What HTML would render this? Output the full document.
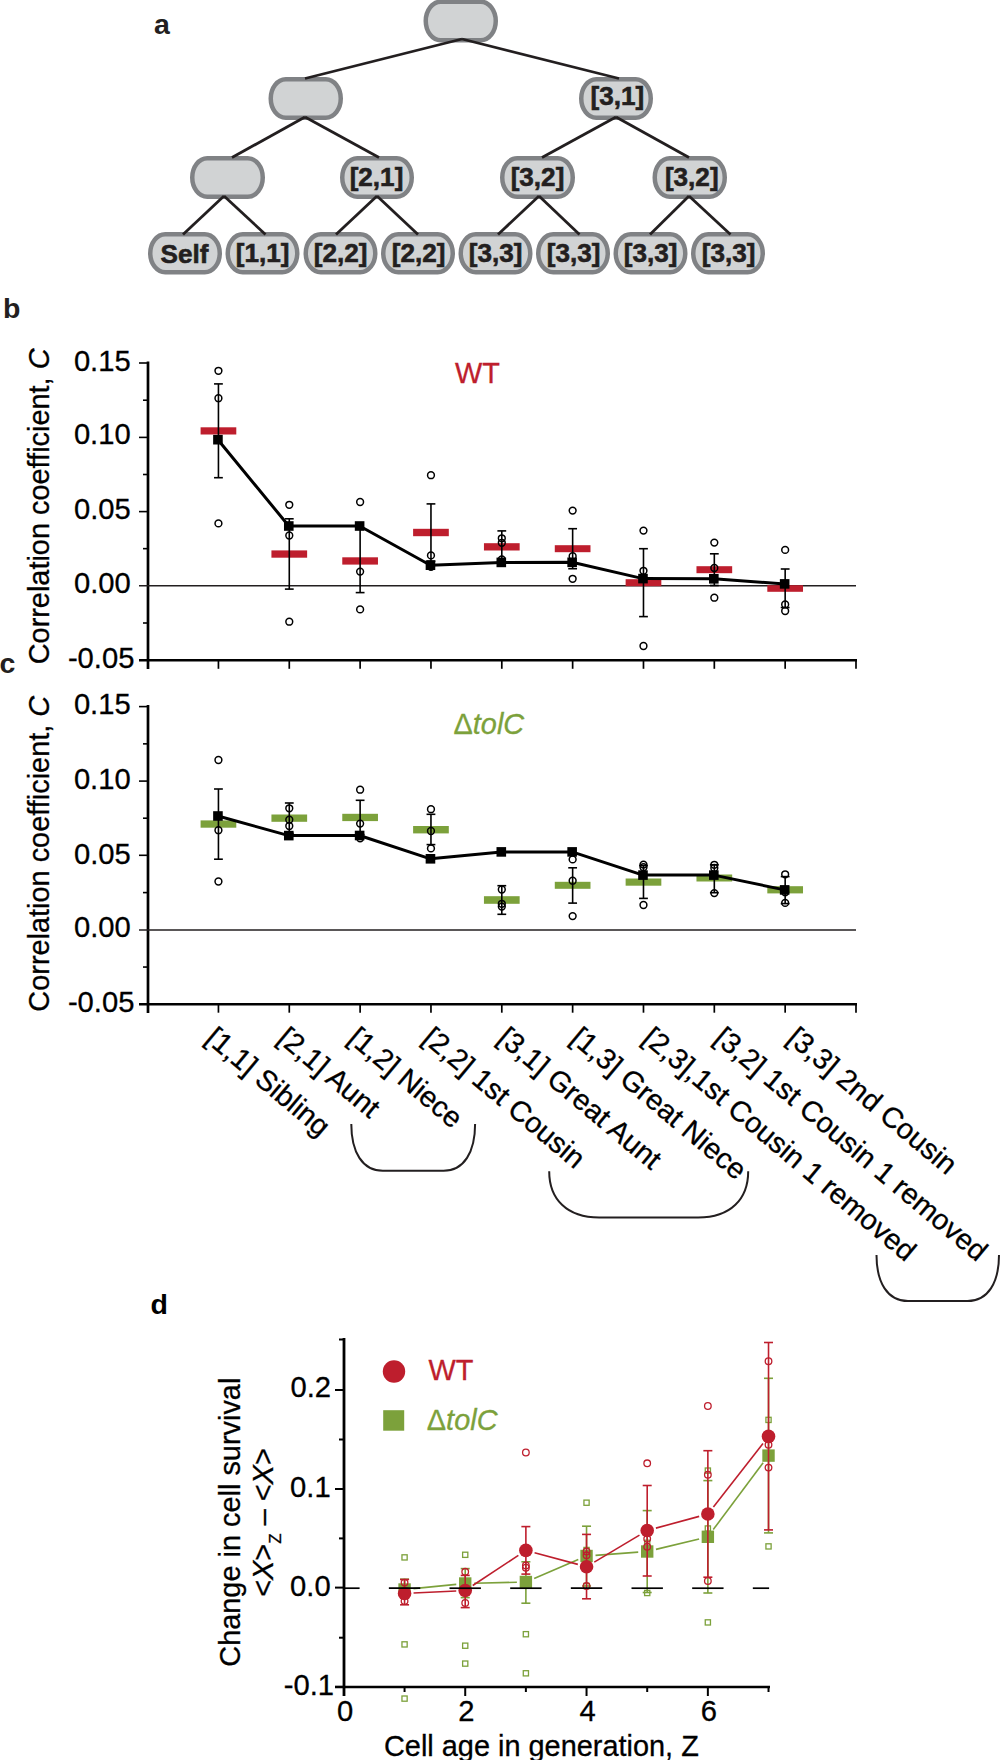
<!DOCTYPE html>
<html><head><meta charset="utf-8"><title>Figure</title>
<style>
html,body{margin:0;padding:0;background:#fff;width:1001px;height:1760px;overflow:hidden;}
svg{display:block;}
text{font-family:"Liberation Sans", sans-serif;}
</style></head><body>
<svg width="1001" height="1760" viewBox="0 0 1001 1760">
<rect width="1001" height="1760" fill="#fff"/>
<text x="154" y="33.5" font-size="28.5" fill="#231f20" font-weight="bold">a</text>
<rect x="425.75" y="1.75" width="70" height="38.5" rx="15" ry="19.25" fill="#d1d3d4" stroke="#808285" stroke-width="4.5"/>
<rect x="270.75" y="79.25" width="70" height="38.5" rx="15" ry="19.25" fill="#d1d3d4" stroke="#808285" stroke-width="4.5"/>
<rect x="581.25" y="79.25" width="69.5" height="38.5" rx="15" ry="19.25" fill="#d1d3d4" stroke="#808285" stroke-width="4.5"/>
<g transform="translate(1.4 -1.8)"><text x="616" y="106.5" font-size="26.1" fill="#231f20" text-anchor="middle" font-weight="bold" stroke="#231f20" stroke-width="0.6">[3,1]</text></g>
<rect x="192.25" y="158.25" width="70.5" height="38.5" rx="15" ry="19.25" fill="#d1d3d4" stroke="#808285" stroke-width="4.5"/>
<rect x="342.25" y="158.25" width="69.5" height="38.5" rx="15" ry="19.25" fill="#d1d3d4" stroke="#808285" stroke-width="4.5"/>
<g transform="translate(-0.5 0)"><text x="377" y="185.5" font-size="26.1" fill="#231f20" text-anchor="middle" font-weight="bold" stroke="#231f20" stroke-width="0.6">[2,1]</text></g>
<rect x="502.25" y="158.25" width="70.5" height="38.5" rx="15" ry="19.25" fill="#d1d3d4" stroke="#808285" stroke-width="4.5"/>
<text x="537.5" y="185.5" font-size="26.1" fill="#231f20" text-anchor="middle" font-weight="bold" stroke="#231f20" stroke-width="0.6">[3,2]</text>
<rect x="654.75" y="158.25" width="70" height="38.5" rx="15" ry="19.25" fill="#d1d3d4" stroke="#808285" stroke-width="4.5"/>
<g transform="translate(2 0)"><text x="689.75" y="185.5" font-size="26.1" fill="#231f20" text-anchor="middle" font-weight="bold" stroke="#231f20" stroke-width="0.6">[3,2]</text></g>
<rect x="150.25" y="234.25" width="69.5" height="38" rx="15" ry="19.25" fill="#d1d3d4" stroke="#808285" stroke-width="4.5"/>
<g transform="translate(-0.5 2)"><text x="185" y="261.25" font-size="26.1" fill="#231f20" text-anchor="middle" font-weight="bold" stroke="#231f20" stroke-width="0.6">Self</text></g>
<rect x="227.75" y="234.25" width="69.5" height="38" rx="15" ry="19.25" fill="#d1d3d4" stroke="#808285" stroke-width="4.5"/>
<g transform="translate(0.2 1.2)"><text x="262.5" y="261.25" font-size="26.1" fill="#231f20" text-anchor="middle" font-weight="bold" stroke="#231f20" stroke-width="0.6">[1,1]</text></g>
<rect x="305.75" y="234.25" width="69.5" height="38" rx="15" ry="19.25" fill="#d1d3d4" stroke="#808285" stroke-width="4.5"/>
<g transform="translate(0.2 1.2)"><text x="340.5" y="261.25" font-size="26.1" fill="#231f20" text-anchor="middle" font-weight="bold" stroke="#231f20" stroke-width="0.6">[2,2]</text></g>
<rect x="383.25" y="234.25" width="69.5" height="38" rx="15" ry="19.25" fill="#d1d3d4" stroke="#808285" stroke-width="4.5"/>
<g transform="translate(0.7 1.2)"><text x="418" y="261.25" font-size="26.1" fill="#231f20" text-anchor="middle" font-weight="bold" stroke="#231f20" stroke-width="0.6">[2,2]</text></g>
<rect x="460.75" y="234.25" width="69.5" height="38" rx="15" ry="19.25" fill="#d1d3d4" stroke="#808285" stroke-width="4.5"/>
<g transform="translate(0.2 1.2)"><text x="495.5" y="261.25" font-size="26.1" fill="#231f20" text-anchor="middle" font-weight="bold" stroke="#231f20" stroke-width="0.6">[3,3]</text></g>
<rect x="538.25" y="234.25" width="69.5" height="38" rx="15" ry="19.25" fill="#d1d3d4" stroke="#808285" stroke-width="4.5"/>
<g transform="translate(0.7 1.2)"><text x="573" y="261.25" font-size="26.1" fill="#231f20" text-anchor="middle" font-weight="bold" stroke="#231f20" stroke-width="0.6">[3,3]</text></g>
<rect x="615.75" y="234.25" width="69.5" height="38" rx="15" ry="19.25" fill="#d1d3d4" stroke="#808285" stroke-width="4.5"/>
<g transform="translate(0.2 1.2)"><text x="650.5" y="261.25" font-size="26.1" fill="#231f20" text-anchor="middle" font-weight="bold" stroke="#231f20" stroke-width="0.6">[3,3]</text></g>
<rect x="693.25" y="234.25" width="69.5" height="38" rx="15" ry="19.25" fill="#d1d3d4" stroke="#808285" stroke-width="4.5"/>
<g transform="translate(0.7 1.2)"><text x="728" y="261.25" font-size="26.1" fill="#231f20" text-anchor="middle" font-weight="bold" stroke="#231f20" stroke-width="0.6">[3,3]</text></g>
<line x1="462" y1="39" x2="305" y2="78.5" stroke="#231f20" stroke-width="2.8"/>
<line x1="462" y1="39" x2="619" y2="78.5" stroke="#231f20" stroke-width="2.8"/>
<line x1="305" y1="117" x2="232" y2="157.5" stroke="#231f20" stroke-width="2.8"/>
<line x1="305" y1="117" x2="379" y2="157.5" stroke="#231f20" stroke-width="2.8"/>
<line x1="616" y1="117" x2="542" y2="157.5" stroke="#231f20" stroke-width="2.8"/>
<line x1="616" y1="117" x2="689" y2="157.5" stroke="#231f20" stroke-width="2.8"/>
<line x1="224" y1="196" x2="183" y2="234.5" stroke="#231f20" stroke-width="2.8"/>
<line x1="224" y1="196" x2="265.5" y2="234.5" stroke="#231f20" stroke-width="2.8"/>
<line x1="377" y1="196" x2="336" y2="234.5" stroke="#231f20" stroke-width="2.8"/>
<line x1="377" y1="196" x2="418" y2="234.5" stroke="#231f20" stroke-width="2.8"/>
<line x1="539" y1="196" x2="498" y2="234.5" stroke="#231f20" stroke-width="2.8"/>
<line x1="539" y1="196" x2="579.5" y2="234.5" stroke="#231f20" stroke-width="2.8"/>
<line x1="689" y1="196" x2="650" y2="234.5" stroke="#231f20" stroke-width="2.8"/>
<line x1="689" y1="196" x2="730.5" y2="234.5" stroke="#231f20" stroke-width="2.8"/>
<line x1="148" y1="361.5" x2="148" y2="669" stroke="#000" stroke-width="2.7"/>
<line x1="139" y1="660.3" x2="857" y2="660.3" stroke="#000" stroke-width="2.6"/>
<line x1="139" y1="585.7" x2="856" y2="585.7" stroke="#231f20" stroke-width="1.5"/>
<line x1="139" y1="363" x2="148" y2="363" stroke="#000" stroke-width="1.6"/>
<line x1="139" y1="437.4" x2="148" y2="437.4" stroke="#000" stroke-width="1.6"/>
<line x1="139" y1="511.6" x2="148" y2="511.6" stroke="#000" stroke-width="1.6"/>
<line x1="143" y1="400.2" x2="148" y2="400.2" stroke="#000" stroke-width="1.6"/>
<line x1="143" y1="474.5" x2="148" y2="474.5" stroke="#000" stroke-width="1.6"/>
<line x1="143" y1="548.65" x2="148" y2="548.65" stroke="#000" stroke-width="1.6"/>
<line x1="143" y1="623" x2="148" y2="623" stroke="#000" stroke-width="1.6"/>
<line x1="218.44" y1="660.3" x2="218.44" y2="668.8" stroke="#000" stroke-width="1.7"/>
<line x1="289.28" y1="660.3" x2="289.28" y2="668.8" stroke="#000" stroke-width="1.7"/>
<line x1="360.12" y1="660.3" x2="360.12" y2="668.8" stroke="#000" stroke-width="1.7"/>
<line x1="430.96" y1="660.3" x2="430.96" y2="668.8" stroke="#000" stroke-width="1.7"/>
<line x1="501.8" y1="660.3" x2="501.8" y2="668.8" stroke="#000" stroke-width="1.7"/>
<line x1="572.64" y1="660.3" x2="572.64" y2="668.8" stroke="#000" stroke-width="1.7"/>
<line x1="643.48" y1="660.3" x2="643.48" y2="668.8" stroke="#000" stroke-width="1.7"/>
<line x1="714.32" y1="660.3" x2="714.32" y2="668.8" stroke="#000" stroke-width="1.7"/>
<line x1="785.16" y1="660.3" x2="785.16" y2="668.8" stroke="#000" stroke-width="1.7"/>
<line x1="856" y1="660.3" x2="856" y2="668.8" stroke="#000" stroke-width="1.7"/>
<text x="73.9" y="370.6" font-size="29.2" fill="#000" stroke="#000" stroke-width="0.3">0.15</text>
<g transform="translate(0 -1)"><text x="73.9" y="445" font-size="29.2" fill="#000" stroke="#000" stroke-width="0.3">0.10</text></g>
<g transform="translate(0.1 -0.2)"><text x="73.9" y="519.2" font-size="29.2" fill="#000" stroke="#000" stroke-width="0.3">0.05</text></g>
<g transform="translate(0.1 0.2)"><text x="73.9" y="593.3" font-size="29.2" fill="#000" stroke="#000" stroke-width="0.3">0.00</text></g>
<g transform="translate(0.7 0.4)"><text x="67.2" y="667.9" font-size="29.2" fill="#000" stroke="#000" stroke-width="0.3">-0.05</text></g>
<g transform="translate(1 0.22)"><text transform="translate(48 506.18) rotate(-90)" text-anchor="middle" font-size="28.9" fill="#000" stroke="#000" stroke-width="0.3">Correlation coefficient, <tspan font-style="italic">C</tspan></text></g>
<g transform="translate(-2 -1)"><text x="5" y="319" font-size="28.5" fill="#231f20" font-weight="bold">b</text></g>
<rect x="200.59" y="427.3" width="35.7" height="7.2" fill="#be1e2d"/>
<rect x="271.43" y="550.4" width="35.7" height="7.3" fill="#be1e2d"/>
<rect x="342.27" y="557.3" width="35.7" height="7.3" fill="#be1e2d"/>
<rect x="413.11" y="528.8" width="35.7" height="7.4" fill="#be1e2d"/>
<rect x="483.95" y="543.2" width="35.7" height="7.3" fill="#be1e2d"/>
<rect x="554.79" y="545.2" width="35.7" height="7" fill="#be1e2d"/>
<rect x="625.63" y="579.2" width="35.7" height="7" fill="#be1e2d"/>
<rect x="696.47" y="566.2" width="35.7" height="7" fill="#be1e2d"/>
<rect x="767.31" y="585.2" width="35.7" height="6.6" fill="#be1e2d"/>
<line x1="218.44" y1="383.9" x2="218.44" y2="477.7" stroke="#000" stroke-width="1.6"/>
<line x1="214.04" y1="383.9" x2="222.84" y2="383.9" stroke="#000" stroke-width="1.6"/>
<line x1="214.04" y1="477.7" x2="222.84" y2="477.7" stroke="#000" stroke-width="1.6"/>
<line x1="289.28" y1="518.8" x2="289.28" y2="589.1" stroke="#000" stroke-width="1.6"/>
<line x1="284.88" y1="518.8" x2="293.68" y2="518.8" stroke="#000" stroke-width="1.6"/>
<line x1="284.88" y1="589.1" x2="293.68" y2="589.1" stroke="#000" stroke-width="1.6"/>
<line x1="360.12" y1="529.2" x2="360.12" y2="592.6" stroke="#000" stroke-width="1.6"/>
<line x1="355.72" y1="529.2" x2="364.52" y2="529.2" stroke="#000" stroke-width="1.6"/>
<line x1="355.72" y1="592.6" x2="364.52" y2="592.6" stroke="#000" stroke-width="1.6"/>
<line x1="430.96" y1="503.9" x2="430.96" y2="561.1" stroke="#000" stroke-width="1.6"/>
<line x1="426.56" y1="503.9" x2="435.36" y2="503.9" stroke="#000" stroke-width="1.6"/>
<line x1="426.56" y1="561.1" x2="435.36" y2="561.1" stroke="#000" stroke-width="1.6"/>
<line x1="501.8" y1="530.9" x2="501.8" y2="562.8" stroke="#000" stroke-width="1.6"/>
<line x1="497.4" y1="530.9" x2="506.2" y2="530.9" stroke="#000" stroke-width="1.6"/>
<line x1="497.4" y1="562.8" x2="506.2" y2="562.8" stroke="#000" stroke-width="1.6"/>
<line x1="572.64" y1="528.7" x2="572.64" y2="568.7" stroke="#000" stroke-width="1.6"/>
<line x1="568.24" y1="528.7" x2="577.04" y2="528.7" stroke="#000" stroke-width="1.6"/>
<line x1="568.24" y1="568.7" x2="577.04" y2="568.7" stroke="#000" stroke-width="1.6"/>
<line x1="643.48" y1="548.7" x2="643.48" y2="616.6" stroke="#000" stroke-width="1.6"/>
<line x1="639.08" y1="548.7" x2="647.88" y2="548.7" stroke="#000" stroke-width="1.6"/>
<line x1="639.08" y1="616.6" x2="647.88" y2="616.6" stroke="#000" stroke-width="1.6"/>
<line x1="714.32" y1="553.8" x2="714.32" y2="585.5" stroke="#000" stroke-width="1.6"/>
<line x1="709.92" y1="553.8" x2="718.72" y2="553.8" stroke="#000" stroke-width="1.6"/>
<line x1="709.92" y1="585.5" x2="718.72" y2="585.5" stroke="#000" stroke-width="1.6"/>
<line x1="785.16" y1="569" x2="785.16" y2="607.5" stroke="#000" stroke-width="1.6"/>
<line x1="780.76" y1="569" x2="789.56" y2="569" stroke="#000" stroke-width="1.6"/>
<line x1="780.76" y1="607.5" x2="789.56" y2="607.5" stroke="#000" stroke-width="1.6"/>
<circle cx="218.44" cy="370.8" r="3.4" fill="none" stroke="#000" stroke-width="1.5"/>
<circle cx="218.44" cy="398.2" r="3.4" fill="none" stroke="#000" stroke-width="1.5"/>
<circle cx="218.44" cy="523.4" r="3.4" fill="none" stroke="#000" stroke-width="1.5"/>
<circle cx="289.28" cy="504.8" r="3.4" fill="none" stroke="#000" stroke-width="1.5"/>
<circle cx="289.28" cy="535.5" r="3.4" fill="none" stroke="#000" stroke-width="1.5"/>
<circle cx="289.28" cy="621.7" r="3.4" fill="none" stroke="#000" stroke-width="1.5"/>
<circle cx="360.12" cy="502" r="3.4" fill="none" stroke="#000" stroke-width="1.5"/>
<circle cx="360.12" cy="571.6" r="3.4" fill="none" stroke="#000" stroke-width="1.5"/>
<circle cx="360.12" cy="609.4" r="3.4" fill="none" stroke="#000" stroke-width="1.5"/>
<circle cx="430.96" cy="475.2" r="3.4" fill="none" stroke="#000" stroke-width="1.5"/>
<circle cx="430.96" cy="555.4" r="3.4" fill="none" stroke="#000" stroke-width="1.5"/>
<circle cx="430.96" cy="566.9" r="3.4" fill="none" stroke="#000" stroke-width="1.5"/>
<circle cx="501.8" cy="538.3" r="3.4" fill="none" stroke="#000" stroke-width="1.5"/>
<circle cx="501.8" cy="542.8" r="3.4" fill="none" stroke="#000" stroke-width="1.5"/>
<circle cx="501.8" cy="559.4" r="3.4" fill="none" stroke="#000" stroke-width="1.5"/>
<circle cx="572.64" cy="510.6" r="3.4" fill="none" stroke="#000" stroke-width="1.5"/>
<circle cx="572.64" cy="556.2" r="3.4" fill="none" stroke="#000" stroke-width="1.5"/>
<circle cx="572.64" cy="578.8" r="3.4" fill="none" stroke="#000" stroke-width="1.5"/>
<circle cx="643.48" cy="530.6" r="3.4" fill="none" stroke="#000" stroke-width="1.5"/>
<circle cx="643.48" cy="570.8" r="3.4" fill="none" stroke="#000" stroke-width="1.5"/>
<circle cx="643.48" cy="646" r="3.4" fill="none" stroke="#000" stroke-width="1.5"/>
<circle cx="714.32" cy="542.6" r="3.4" fill="none" stroke="#000" stroke-width="1.5"/>
<circle cx="714.32" cy="568" r="3.4" fill="none" stroke="#000" stroke-width="1.5"/>
<circle cx="714.32" cy="597.7" r="3.4" fill="none" stroke="#000" stroke-width="1.5"/>
<circle cx="785.16" cy="549.9" r="3.4" fill="none" stroke="#000" stroke-width="1.5"/>
<circle cx="785.16" cy="604.4" r="3.4" fill="none" stroke="#000" stroke-width="1.5"/>
<circle cx="785.16" cy="611" r="3.4" fill="none" stroke="#000" stroke-width="1.5"/>
<polyline points="217.94,439.7 288.78,526 359.62,526 430.46,565.2 501.3,562.4 572.14,562.3 642.98,578.6 713.82,578.8 784.66,583.9" fill="none" stroke="#000" stroke-width="3" stroke-linejoin="round"/>
<rect x="213.14" y="434.9" width="9.6" height="9.6" fill="#000"/>
<rect x="283.98" y="521.2" width="9.6" height="9.6" fill="#000"/>
<rect x="354.82" y="521.2" width="9.6" height="9.6" fill="#000"/>
<rect x="425.66" y="560.4" width="9.6" height="9.6" fill="#000"/>
<rect x="496.5" y="557.6" width="9.6" height="9.6" fill="#000"/>
<rect x="567.34" y="557.5" width="9.6" height="9.6" fill="#000"/>
<rect x="638.18" y="573.8" width="9.6" height="9.6" fill="#000"/>
<rect x="709.02" y="574" width="9.6" height="9.6" fill="#000"/>
<rect x="779.86" y="579.1" width="9.6" height="9.6" fill="#000"/>
<g transform="translate(0.5 -1)"><text x="454.5" y="384" font-size="28.9" fill="#be1e2d" stroke="#be1e2d" stroke-width="0.3">WT</text></g>
<line x1="148" y1="705.1" x2="148" y2="1012.9" stroke="#000" stroke-width="2.7"/>
<line x1="139" y1="1004.2" x2="857" y2="1004.2" stroke="#000" stroke-width="2.6"/>
<line x1="139" y1="929.9" x2="856" y2="929.9" stroke="#231f20" stroke-width="1.5"/>
<line x1="139" y1="706.6" x2="148" y2="706.6" stroke="#000" stroke-width="1.6"/>
<line x1="139" y1="781.1" x2="148" y2="781.1" stroke="#000" stroke-width="1.6"/>
<line x1="139" y1="855.3" x2="148" y2="855.3" stroke="#000" stroke-width="1.6"/>
<line x1="143" y1="743.85" x2="148" y2="743.85" stroke="#000" stroke-width="1.6"/>
<line x1="143" y1="818.2" x2="148" y2="818.2" stroke="#000" stroke-width="1.6"/>
<line x1="143" y1="892.6" x2="148" y2="892.6" stroke="#000" stroke-width="1.6"/>
<line x1="143" y1="967.05" x2="148" y2="967.05" stroke="#000" stroke-width="1.6"/>
<line x1="218.44" y1="1004.2" x2="218.44" y2="1012.7" stroke="#000" stroke-width="1.7"/>
<line x1="289.28" y1="1004.2" x2="289.28" y2="1012.7" stroke="#000" stroke-width="1.7"/>
<line x1="360.12" y1="1004.2" x2="360.12" y2="1012.7" stroke="#000" stroke-width="1.7"/>
<line x1="430.96" y1="1004.2" x2="430.96" y2="1012.7" stroke="#000" stroke-width="1.7"/>
<line x1="501.8" y1="1004.2" x2="501.8" y2="1012.7" stroke="#000" stroke-width="1.7"/>
<line x1="572.64" y1="1004.2" x2="572.64" y2="1012.7" stroke="#000" stroke-width="1.7"/>
<line x1="643.48" y1="1004.2" x2="643.48" y2="1012.7" stroke="#000" stroke-width="1.7"/>
<line x1="714.32" y1="1004.2" x2="714.32" y2="1012.7" stroke="#000" stroke-width="1.7"/>
<line x1="785.16" y1="1004.2" x2="785.16" y2="1012.7" stroke="#000" stroke-width="1.7"/>
<line x1="856" y1="1004.2" x2="856" y2="1012.7" stroke="#000" stroke-width="1.7"/>
<text x="73.9" y="714.2" font-size="29.2" fill="#000" stroke="#000" stroke-width="0.3">0.15</text>
<text x="73.9" y="788.7" font-size="29.2" fill="#000" stroke="#000" stroke-width="0.3">0.10</text>
<g transform="translate(0.1 0.8)"><text x="73.9" y="862.9" font-size="29.2" fill="#000" stroke="#000" stroke-width="0.3">0.05</text></g>
<g transform="translate(0.1 -0.8)"><text x="73.9" y="937.5" font-size="29.2" fill="#000" stroke="#000" stroke-width="0.3">0.00</text></g>
<g transform="translate(0.7 0.4)"><text x="67.2" y="1011.8" font-size="29.2" fill="#000" stroke="#000" stroke-width="0.3">-0.05</text></g>
<g transform="translate(1 0.5)"><text transform="translate(48 853.25) rotate(-90)" text-anchor="middle" font-size="28.9" fill="#000" stroke="#000" stroke-width="0.3">Correlation coefficient, <tspan font-style="italic">C</tspan></text></g>
<g transform="translate(-0.6 -0.4)"><text x="0" y="673.6" font-size="28.5" fill="#231f20" font-weight="bold">c</text></g>
<rect x="200.59" y="820.4" width="35.7" height="7.3" fill="#7ca13b"/>
<rect x="271.43" y="814.5" width="35.7" height="7.3" fill="#7ca13b"/>
<rect x="342.27" y="813.8" width="35.7" height="7.3" fill="#7ca13b"/>
<rect x="413.11" y="826" width="35.7" height="7.4" fill="#7ca13b"/>
<rect x="483.95" y="896.2" width="35.7" height="7.6" fill="#7ca13b"/>
<rect x="554.79" y="881.8" width="35.7" height="7" fill="#7ca13b"/>
<rect x="625.63" y="878.5" width="35.7" height="7.2" fill="#7ca13b"/>
<rect x="696.47" y="874.5" width="35.7" height="7" fill="#7ca13b"/>
<rect x="767.31" y="886.2" width="35.7" height="7.2" fill="#7ca13b"/>
<line x1="218.44" y1="789" x2="218.44" y2="859.2" stroke="#000" stroke-width="1.6"/>
<line x1="214.04" y1="789" x2="222.84" y2="789" stroke="#000" stroke-width="1.6"/>
<line x1="214.04" y1="859.2" x2="222.84" y2="859.2" stroke="#000" stroke-width="1.6"/>
<line x1="289.28" y1="803" x2="289.28" y2="833.3" stroke="#000" stroke-width="1.6"/>
<line x1="284.88" y1="803" x2="293.68" y2="803" stroke="#000" stroke-width="1.6"/>
<line x1="284.88" y1="833.3" x2="293.68" y2="833.3" stroke="#000" stroke-width="1.6"/>
<line x1="360.12" y1="800.3" x2="360.12" y2="834.6" stroke="#000" stroke-width="1.6"/>
<line x1="355.72" y1="800.3" x2="364.52" y2="800.3" stroke="#000" stroke-width="1.6"/>
<line x1="355.72" y1="834.6" x2="364.52" y2="834.6" stroke="#000" stroke-width="1.6"/>
<line x1="430.96" y1="814.3" x2="430.96" y2="844.6" stroke="#000" stroke-width="1.6"/>
<line x1="426.56" y1="814.3" x2="435.36" y2="814.3" stroke="#000" stroke-width="1.6"/>
<line x1="426.56" y1="844.6" x2="435.36" y2="844.6" stroke="#000" stroke-width="1.6"/>
<line x1="501.8" y1="885.7" x2="501.8" y2="914.3" stroke="#000" stroke-width="1.6"/>
<line x1="497.4" y1="885.7" x2="506.2" y2="885.7" stroke="#000" stroke-width="1.6"/>
<line x1="497.4" y1="914.3" x2="506.2" y2="914.3" stroke="#000" stroke-width="1.6"/>
<line x1="572.64" y1="867.8" x2="572.64" y2="903.1" stroke="#000" stroke-width="1.6"/>
<line x1="568.24" y1="867.8" x2="577.04" y2="867.8" stroke="#000" stroke-width="1.6"/>
<line x1="568.24" y1="903.1" x2="577.04" y2="903.1" stroke="#000" stroke-width="1.6"/>
<line x1="643.48" y1="865.6" x2="643.48" y2="898.4" stroke="#000" stroke-width="1.6"/>
<line x1="639.08" y1="865.6" x2="647.88" y2="865.6" stroke="#000" stroke-width="1.6"/>
<line x1="639.08" y1="898.4" x2="647.88" y2="898.4" stroke="#000" stroke-width="1.6"/>
<line x1="714.32" y1="864.8" x2="714.32" y2="892.7" stroke="#000" stroke-width="1.6"/>
<line x1="709.92" y1="864.8" x2="718.72" y2="864.8" stroke="#000" stroke-width="1.6"/>
<line x1="709.92" y1="892.7" x2="718.72" y2="892.7" stroke="#000" stroke-width="1.6"/>
<line x1="785.16" y1="876.6" x2="785.16" y2="903.6" stroke="#000" stroke-width="1.6"/>
<line x1="780.76" y1="876.6" x2="789.56" y2="876.6" stroke="#000" stroke-width="1.6"/>
<line x1="780.76" y1="903.6" x2="789.56" y2="903.6" stroke="#000" stroke-width="1.6"/>
<circle cx="218.44" cy="760" r="3.4" fill="none" stroke="#000" stroke-width="1.5"/>
<circle cx="218.44" cy="830.2" r="3.4" fill="none" stroke="#000" stroke-width="1.5"/>
<circle cx="218.44" cy="881.5" r="3.4" fill="none" stroke="#000" stroke-width="1.5"/>
<circle cx="289.28" cy="808.3" r="3.4" fill="none" stroke="#000" stroke-width="1.5"/>
<circle cx="289.28" cy="819.7" r="3.4" fill="none" stroke="#000" stroke-width="1.5"/>
<circle cx="289.28" cy="826" r="3.4" fill="none" stroke="#000" stroke-width="1.5"/>
<circle cx="360.12" cy="789.7" r="3.4" fill="none" stroke="#000" stroke-width="1.5"/>
<circle cx="360.12" cy="823.6" r="3.4" fill="none" stroke="#000" stroke-width="1.5"/>
<circle cx="360.12" cy="838.3" r="3.4" fill="none" stroke="#000" stroke-width="1.5"/>
<circle cx="430.96" cy="809.2" r="3.4" fill="none" stroke="#000" stroke-width="1.5"/>
<circle cx="430.96" cy="831" r="3.4" fill="none" stroke="#000" stroke-width="1.5"/>
<circle cx="430.96" cy="848.4" r="3.4" fill="none" stroke="#000" stroke-width="1.5"/>
<circle cx="501.8" cy="889.5" r="3.4" fill="none" stroke="#000" stroke-width="1.5"/>
<circle cx="501.8" cy="903.8" r="3.4" fill="none" stroke="#000" stroke-width="1.5"/>
<circle cx="501.8" cy="906.6" r="3.4" fill="none" stroke="#000" stroke-width="1.5"/>
<circle cx="572.64" cy="859.4" r="3.4" fill="none" stroke="#000" stroke-width="1.5"/>
<circle cx="572.64" cy="880.7" r="3.4" fill="none" stroke="#000" stroke-width="1.5"/>
<circle cx="572.64" cy="916.1" r="3.4" fill="none" stroke="#000" stroke-width="1.5"/>
<circle cx="643.48" cy="864.6" r="3.4" fill="none" stroke="#000" stroke-width="1.5"/>
<circle cx="643.48" cy="867.2" r="3.4" fill="none" stroke="#000" stroke-width="1.5"/>
<circle cx="643.48" cy="905" r="3.4" fill="none" stroke="#000" stroke-width="1.5"/>
<circle cx="714.32" cy="864.8" r="3.4" fill="none" stroke="#000" stroke-width="1.5"/>
<circle cx="714.32" cy="868" r="3.4" fill="none" stroke="#000" stroke-width="1.5"/>
<circle cx="714.32" cy="893.1" r="3.4" fill="none" stroke="#000" stroke-width="1.5"/>
<circle cx="785.16" cy="874.3" r="3.4" fill="none" stroke="#000" stroke-width="1.5"/>
<circle cx="785.16" cy="892.2" r="3.4" fill="none" stroke="#000" stroke-width="1.5"/>
<circle cx="785.16" cy="902.9" r="3.4" fill="none" stroke="#000" stroke-width="1.5"/>
<polyline points="217.94,816 288.78,835.6 359.62,835.5 430.46,858.8 501.3,851.9 572.14,851.9 642.98,875.1 713.82,875.1 784.66,889.9" fill="none" stroke="#000" stroke-width="3" stroke-linejoin="round"/>
<rect x="213.14" y="811.2" width="9.6" height="9.6" fill="#000"/>
<rect x="283.98" y="830.8" width="9.6" height="9.6" fill="#000"/>
<rect x="354.82" y="830.7" width="9.6" height="9.6" fill="#000"/>
<rect x="425.66" y="854" width="9.6" height="9.6" fill="#000"/>
<rect x="496.5" y="847.1" width="9.6" height="9.6" fill="#000"/>
<rect x="567.34" y="847.1" width="9.6" height="9.6" fill="#000"/>
<rect x="638.18" y="870.3" width="9.6" height="9.6" fill="#000"/>
<rect x="709.02" y="870.3" width="9.6" height="9.6" fill="#000"/>
<rect x="779.86" y="885.1" width="9.6" height="9.6" fill="#000"/>
<g transform="translate(-0.5 0.4)"><text x="454" y="733.6" font-size="28.9" fill="#7ca13b" stroke="#7ca13b" stroke-width="0.3">&#916;<tspan font-style="italic">tolC</tspan></text></g>
<g transform="translate(1 0.6)"><text transform="translate(203.1 1040.1) rotate(40)" font-size="28.9" fill="#000" stroke="#000" stroke-width="0.3">[1,1] Sibling</text></g>
<g transform="translate(1 0.6)"><text transform="translate(275.1 1040.1) rotate(40)" font-size="28.9" fill="#000" stroke="#000" stroke-width="0.3">[2,1] Aunt</text></g>
<g transform="translate(1 0.6)"><text transform="translate(345.6 1040.1) rotate(40)" font-size="28.9" fill="#000" stroke="#000" stroke-width="0.3">[1,2] Niece</text></g>
<g transform="translate(1 0.6)"><text transform="translate(420.1 1040.1) rotate(40)" font-size="28.9" fill="#000" stroke="#000" stroke-width="0.3">[2,2] 1st Cousin</text></g>
<g transform="translate(1 0.6)"><text transform="translate(495.1 1040.1) rotate(40)" font-size="28.9" fill="#000" stroke="#000" stroke-width="0.3">[3,1] Great Aunt</text></g>
<g transform="translate(1 0.6)"><text transform="translate(568.1 1040.1) rotate(40)" font-size="28.9" fill="#000" stroke="#000" stroke-width="0.3">[1,3] Great Niece</text></g>
<g transform="translate(1 0.6)"><text transform="translate(640.1 1040.1) rotate(40)" font-size="28.9" fill="#000" stroke="#000" stroke-width="0.3">[2,3],1st Cousin 1 removed</text></g>
<g transform="translate(1 0.6)"><text transform="translate(711.6 1040.1) rotate(40)" font-size="28.9" fill="#000" stroke="#000" stroke-width="0.3">[3,2] 1st Cousin 1 removed</text></g>
<g transform="translate(1 0.6)"><text transform="translate(784.6 1040.1) rotate(40)" font-size="28.9" fill="#000" stroke="#000" stroke-width="0.3">[3,3] 2nd Cousin</text></g>
<path d="M351.3 1124 C351.3 1152.02 362.32 1170.7 382.8 1170.7 L443.6 1170.7 C464.08 1170.7 475.1 1152.02 475.1 1124" fill="none" stroke="#231f20" stroke-width="2"/>
<path d="M549.2 1171.2 C549.2 1198.98 566.7 1217.5 599.2 1217.5 L698.2 1217.5 C730.7 1217.5 748.2 1198.98 748.2 1171.2" fill="none" stroke="#231f20" stroke-width="2"/>
<path d="M876.5 1254.9 C876.5 1282.62 887.52 1301.1 908 1301.1 L967.5 1301.1 C987.98 1301.1 999 1282.62 999 1254.9" fill="none" stroke="#231f20" stroke-width="2"/>
<g transform="translate(1 -1)"><text x="149.5" y="1314.5" font-size="28.5" fill="#000" font-weight="bold">d</text></g>
<line x1="344" y1="1338" x2="344" y2="1696" stroke="#000" stroke-width="2.8"/>
<line x1="335" y1="1687" x2="770" y2="1687" stroke="#000" stroke-width="2.7"/>
<line x1="335" y1="1390" x2="344" y2="1390" stroke="#000" stroke-width="2"/>
<line x1="335" y1="1489" x2="344" y2="1489" stroke="#000" stroke-width="2"/>
<line x1="335" y1="1587.6" x2="344" y2="1587.6" stroke="#000" stroke-width="2"/>
<line x1="335" y1="1686.9" x2="344" y2="1686.9" stroke="#000" stroke-width="2"/>
<line x1="339" y1="1339.5" x2="344" y2="1339.5" stroke="#000" stroke-width="2"/>
<line x1="339" y1="1439.5" x2="344" y2="1439.5" stroke="#000" stroke-width="2"/>
<line x1="339" y1="1538.4" x2="344" y2="1538.4" stroke="#000" stroke-width="2"/>
<line x1="339" y1="1637.7" x2="344" y2="1637.7" stroke="#000" stroke-width="2"/>
<line x1="404.56" y1="1687" x2="404.56" y2="1692" stroke="#000" stroke-width="2"/>
<line x1="465.22" y1="1687" x2="465.22" y2="1696" stroke="#000" stroke-width="2"/>
<line x1="525.88" y1="1687" x2="525.88" y2="1692" stroke="#000" stroke-width="2"/>
<line x1="586.54" y1="1687" x2="586.54" y2="1696" stroke="#000" stroke-width="2"/>
<line x1="647.2" y1="1687" x2="647.2" y2="1692" stroke="#000" stroke-width="2"/>
<line x1="707.86" y1="1687" x2="707.86" y2="1696" stroke="#000" stroke-width="2"/>
<line x1="768.52" y1="1687" x2="768.52" y2="1692" stroke="#000" stroke-width="2"/>
<g transform="translate(1 -1)"><text x="289.5" y="1398.3" font-size="29.2" fill="#000" stroke="#000" stroke-width="0.3">0.2</text></g>
<g transform="translate(0.6 -0.4)"><text x="289.5" y="1497.3" font-size="29.2" fill="#000" stroke="#000" stroke-width="0.3">0.1</text></g>
<g transform="translate(0.6 0.4)"><text x="289.5" y="1595.9" font-size="29.2" fill="#000" stroke="#000" stroke-width="0.3">0.0</text></g>
<g transform="translate(1 0)"><text x="282.8" y="1695.2" font-size="29.2" fill="#000" stroke="#000" stroke-width="0.3">-0.1</text></g>
<g transform="translate(1.2 -0.8)"><text x="343.9" y="1721.5" font-size="29.2" fill="#000" text-anchor="middle" stroke="#000" stroke-width="0.3">0</text></g>
<g transform="translate(1.2 -0.4)"><text x="465.22" y="1721.5" font-size="29.2" fill="#000" text-anchor="middle" stroke="#000" stroke-width="0.3">2</text></g>
<g transform="translate(1.1 -0.4)"><text x="586.54" y="1721.5" font-size="29.2" fill="#000" text-anchor="middle" stroke="#000" stroke-width="0.3">4</text></g>
<g transform="translate(1 -1)"><text x="707.86" y="1721.5" font-size="29.2" fill="#000" text-anchor="middle" stroke="#000" stroke-width="0.3">6</text></g>
<g transform="translate(-0.6 2)"><text x="542" y="1753.8" font-size="28.9" fill="#000" text-anchor="middle" stroke="#000" stroke-width="0.3">Cell age in generation, Z</text></g>
<g transform="translate(0 -1)"><text transform="translate(240 1523.2) rotate(-90)" text-anchor="middle" font-size="28.9" fill="#000" stroke="#000" stroke-width="0.3">Change in cell survival</text></g>
<g transform="translate(0 0.5)"><text transform="translate(273.3 1522) rotate(-90)" text-anchor="middle" font-size="28.9" fill="#000" stroke="#000" stroke-width="0.3">&lt;<tspan font-style="italic">X</tspan>&gt;<tspan font-size="17" dy="8">Z</tspan><tspan dy="-8"> &#8211; &lt;</tspan><tspan font-style="italic">X</tspan>&gt;</text></g>
<circle cx="394" cy="1371.5" r="11.2" fill="#be1e2d"/>
<g transform="translate(1.4 -0.2)"><text x="427" y="1380.2" font-size="28.9" fill="#be1e2d" stroke="#be1e2d" stroke-width="0.3">WT</text></g>
<rect x="383.2" y="1410.2" width="21" height="20.5" fill="#7ca13b"/>
<g transform="translate(-0.2 0.4)"><text x="427" y="1429.7" font-size="28.9" fill="#7ca13b" stroke="#7ca13b" stroke-width="0.3">&#916;<tspan font-style="italic">tolC</tspan></text></g>
<line x1="413.52" y1="1588.61" x2="456.26" y2="1584.39" stroke="#7ca13b" stroke-width="1.6"/>
<line x1="474.22" y1="1583.28" x2="516.88" y2="1582.22" stroke="#7ca13b" stroke-width="1.6"/>
<line x1="534.15" y1="1578.45" x2="578.27" y2="1559.55" stroke="#7ca13b" stroke-width="1.6"/>
<line x1="595.52" y1="1555.33" x2="638.22" y2="1552.17" stroke="#7ca13b" stroke-width="1.6"/>
<line x1="655.95" y1="1549.38" x2="699.11" y2="1538.92" stroke="#7ca13b" stroke-width="1.6"/>
<line x1="713.25" y1="1529.59" x2="763.13" y2="1462.81" stroke="#7ca13b" stroke-width="1.6"/>
<line x1="404.56" y1="1579.2" x2="404.56" y2="1598" stroke="#7ca13b" stroke-width="1.6"/>
<line x1="400.06" y1="1579.2" x2="409.06" y2="1579.2" stroke="#7ca13b" stroke-width="1.6"/>
<line x1="400.06" y1="1598" x2="409.06" y2="1598" stroke="#7ca13b" stroke-width="1.6"/>
<line x1="465.22" y1="1568.6" x2="465.22" y2="1597.6" stroke="#7ca13b" stroke-width="1.6"/>
<line x1="460.72" y1="1568.6" x2="469.72" y2="1568.6" stroke="#7ca13b" stroke-width="1.6"/>
<line x1="460.72" y1="1597.6" x2="469.72" y2="1597.6" stroke="#7ca13b" stroke-width="1.6"/>
<line x1="525.88" y1="1561.8" x2="525.88" y2="1603.2" stroke="#7ca13b" stroke-width="1.6"/>
<line x1="521.38" y1="1561.8" x2="530.38" y2="1561.8" stroke="#7ca13b" stroke-width="1.6"/>
<line x1="521.38" y1="1603.2" x2="530.38" y2="1603.2" stroke="#7ca13b" stroke-width="1.6"/>
<line x1="586.54" y1="1526.2" x2="586.54" y2="1586" stroke="#7ca13b" stroke-width="1.6"/>
<line x1="582.04" y1="1526.2" x2="591.04" y2="1526.2" stroke="#7ca13b" stroke-width="1.6"/>
<line x1="582.04" y1="1586" x2="591.04" y2="1586" stroke="#7ca13b" stroke-width="1.6"/>
<line x1="647.2" y1="1510.6" x2="647.2" y2="1592.5" stroke="#7ca13b" stroke-width="1.6"/>
<line x1="642.7" y1="1510.6" x2="651.7" y2="1510.6" stroke="#7ca13b" stroke-width="1.6"/>
<line x1="642.7" y1="1592.5" x2="651.7" y2="1592.5" stroke="#7ca13b" stroke-width="1.6"/>
<line x1="707.86" y1="1480.6" x2="707.86" y2="1593" stroke="#7ca13b" stroke-width="1.6"/>
<line x1="703.36" y1="1480.6" x2="712.36" y2="1480.6" stroke="#7ca13b" stroke-width="1.6"/>
<line x1="703.36" y1="1593" x2="712.36" y2="1593" stroke="#7ca13b" stroke-width="1.6"/>
<line x1="768.52" y1="1378.3" x2="768.52" y2="1532.9" stroke="#7ca13b" stroke-width="1.6"/>
<line x1="764.02" y1="1378.3" x2="773.02" y2="1378.3" stroke="#7ca13b" stroke-width="1.6"/>
<line x1="764.02" y1="1532.9" x2="773.02" y2="1532.9" stroke="#7ca13b" stroke-width="1.6"/>
<rect x="401.96" y="1554.8" width="5.2" height="5.2" fill="none" stroke="#7ca13b" stroke-width="1.3"/>
<rect x="401.96" y="1641.8" width="5.2" height="5.2" fill="none" stroke="#7ca13b" stroke-width="1.3"/>
<rect x="401.96" y="1696" width="5.2" height="5.2" fill="none" stroke="#7ca13b" stroke-width="1.3"/>
<rect x="462.62" y="1552.2" width="5.2" height="5.2" fill="none" stroke="#7ca13b" stroke-width="1.3"/>
<rect x="462.62" y="1643.1" width="5.2" height="5.2" fill="none" stroke="#7ca13b" stroke-width="1.3"/>
<rect x="462.62" y="1661" width="5.2" height="5.2" fill="none" stroke="#7ca13b" stroke-width="1.3"/>
<rect x="523.28" y="1631.6" width="5.2" height="5.2" fill="none" stroke="#7ca13b" stroke-width="1.3"/>
<rect x="523.28" y="1670.7" width="5.2" height="5.2" fill="none" stroke="#7ca13b" stroke-width="1.3"/>
<rect x="523.28" y="1579.4" width="5.2" height="5.2" fill="none" stroke="#7ca13b" stroke-width="1.3"/>
<rect x="583.94" y="1500.1" width="5.2" height="5.2" fill="none" stroke="#7ca13b" stroke-width="1.3"/>
<rect x="583.94" y="1547.4" width="5.2" height="5.2" fill="none" stroke="#7ca13b" stroke-width="1.3"/>
<rect x="583.94" y="1583.4" width="5.2" height="5.2" fill="none" stroke="#7ca13b" stroke-width="1.3"/>
<rect x="644.6" y="1540.2" width="5.2" height="5.2" fill="none" stroke="#7ca13b" stroke-width="1.3"/>
<rect x="644.6" y="1590.4" width="5.2" height="5.2" fill="none" stroke="#7ca13b" stroke-width="1.3"/>
<rect x="705.26" y="1468" width="5.2" height="5.2" fill="none" stroke="#7ca13b" stroke-width="1.3"/>
<rect x="705.26" y="1525.9" width="5.2" height="5.2" fill="none" stroke="#7ca13b" stroke-width="1.3"/>
<rect x="705.26" y="1619.8" width="5.2" height="5.2" fill="none" stroke="#7ca13b" stroke-width="1.3"/>
<rect x="765.92" y="1417.3" width="5.2" height="5.2" fill="none" stroke="#7ca13b" stroke-width="1.3"/>
<rect x="765.92" y="1543.8" width="5.2" height="5.2" fill="none" stroke="#7ca13b" stroke-width="1.3"/>
<rect x="398.36" y="1583.3" width="12.4" height="12.4" fill="#7ca13b"/>
<rect x="459.02" y="1577.3" width="12.4" height="12.4" fill="#7ca13b"/>
<rect x="519.68" y="1575.8" width="12.4" height="12.4" fill="#7ca13b"/>
<rect x="580.34" y="1549.8" width="12.4" height="12.4" fill="#7ca13b"/>
<rect x="641" y="1545.3" width="12.4" height="12.4" fill="#7ca13b"/>
<rect x="701.66" y="1530.6" width="12.4" height="12.4" fill="#7ca13b"/>
<rect x="762.32" y="1449.4" width="12.4" height="12.4" fill="#7ca13b"/>
<line x1="413.55" y1="1593.06" x2="456.23" y2="1590.94" stroke="#be1e2d" stroke-width="1.6"/>
<line x1="472.73" y1="1585.54" x2="518.37" y2="1555.36" stroke="#be1e2d" stroke-width="1.6"/>
<line x1="534.57" y1="1552.74" x2="577.85" y2="1564.36" stroke="#be1e2d" stroke-width="1.6"/>
<line x1="594.27" y1="1562.09" x2="639.47" y2="1535.11" stroke="#be1e2d" stroke-width="1.6"/>
<line x1="655.88" y1="1528.14" x2="699.18" y2="1516.36" stroke="#be1e2d" stroke-width="1.6"/>
<line x1="713.4" y1="1506.91" x2="762.98" y2="1443.49" stroke="#be1e2d" stroke-width="1.6"/>
<line x1="404.56" y1="1579.5" x2="404.56" y2="1604.8" stroke="#be1e2d" stroke-width="1.6"/>
<line x1="400.06" y1="1579.5" x2="409.06" y2="1579.5" stroke="#be1e2d" stroke-width="1.6"/>
<line x1="400.06" y1="1604.8" x2="409.06" y2="1604.8" stroke="#be1e2d" stroke-width="1.6"/>
<line x1="465.22" y1="1575.4" x2="465.22" y2="1607.6" stroke="#be1e2d" stroke-width="1.6"/>
<line x1="460.72" y1="1575.4" x2="469.72" y2="1575.4" stroke="#be1e2d" stroke-width="1.6"/>
<line x1="460.72" y1="1607.6" x2="469.72" y2="1607.6" stroke="#be1e2d" stroke-width="1.6"/>
<line x1="525.88" y1="1526.6" x2="525.88" y2="1574.1" stroke="#be1e2d" stroke-width="1.6"/>
<line x1="521.38" y1="1526.6" x2="530.38" y2="1526.6" stroke="#be1e2d" stroke-width="1.6"/>
<line x1="521.38" y1="1574.1" x2="530.38" y2="1574.1" stroke="#be1e2d" stroke-width="1.6"/>
<line x1="586.54" y1="1534.4" x2="586.54" y2="1598.8" stroke="#be1e2d" stroke-width="1.6"/>
<line x1="582.04" y1="1534.4" x2="591.04" y2="1534.4" stroke="#be1e2d" stroke-width="1.6"/>
<line x1="582.04" y1="1598.8" x2="591.04" y2="1598.8" stroke="#be1e2d" stroke-width="1.6"/>
<line x1="647.2" y1="1485.5" x2="647.2" y2="1576" stroke="#be1e2d" stroke-width="1.6"/>
<line x1="642.7" y1="1485.5" x2="651.7" y2="1485.5" stroke="#be1e2d" stroke-width="1.6"/>
<line x1="642.7" y1="1576" x2="651.7" y2="1576" stroke="#be1e2d" stroke-width="1.6"/>
<line x1="707.86" y1="1450.7" x2="707.86" y2="1577.2" stroke="#be1e2d" stroke-width="1.6"/>
<line x1="703.36" y1="1450.7" x2="712.36" y2="1450.7" stroke="#be1e2d" stroke-width="1.6"/>
<line x1="703.36" y1="1577.2" x2="712.36" y2="1577.2" stroke="#be1e2d" stroke-width="1.6"/>
<line x1="768.52" y1="1342.5" x2="768.52" y2="1529.9" stroke="#be1e2d" stroke-width="1.6"/>
<line x1="764.02" y1="1342.5" x2="773.02" y2="1342.5" stroke="#be1e2d" stroke-width="1.6"/>
<line x1="764.02" y1="1529.9" x2="773.02" y2="1529.9" stroke="#be1e2d" stroke-width="1.6"/>
<circle cx="404.56" cy="1582.6" r="3.3" fill="none" stroke="#be1e2d" stroke-width="1.3"/>
<circle cx="404.56" cy="1601" r="3.3" fill="none" stroke="#be1e2d" stroke-width="1.3"/>
<circle cx="465.22" cy="1571.8" r="3.3" fill="none" stroke="#be1e2d" stroke-width="1.3"/>
<circle cx="465.22" cy="1603" r="3.3" fill="none" stroke="#be1e2d" stroke-width="1.3"/>
<circle cx="525.88" cy="1452.5" r="3.3" fill="none" stroke="#be1e2d" stroke-width="1.3"/>
<circle cx="525.88" cy="1565.5" r="3.3" fill="none" stroke="#be1e2d" stroke-width="1.3"/>
<circle cx="525.88" cy="1567.7" r="3.3" fill="none" stroke="#be1e2d" stroke-width="1.3"/>
<circle cx="586.54" cy="1551.5" r="3.3" fill="none" stroke="#be1e2d" stroke-width="1.3"/>
<circle cx="586.54" cy="1555.3" r="3.3" fill="none" stroke="#be1e2d" stroke-width="1.3"/>
<circle cx="586.54" cy="1586" r="3.3" fill="none" stroke="#be1e2d" stroke-width="1.3"/>
<circle cx="647.2" cy="1463.3" r="3.3" fill="none" stroke="#be1e2d" stroke-width="1.3"/>
<circle cx="647.2" cy="1538.8" r="3.3" fill="none" stroke="#be1e2d" stroke-width="1.3"/>
<circle cx="647.2" cy="1546.8" r="3.3" fill="none" stroke="#be1e2d" stroke-width="1.3"/>
<circle cx="707.86" cy="1406" r="3.3" fill="none" stroke="#be1e2d" stroke-width="1.3"/>
<circle cx="707.86" cy="1474.8" r="3.3" fill="none" stroke="#be1e2d" stroke-width="1.3"/>
<circle cx="707.86" cy="1581" r="3.3" fill="none" stroke="#be1e2d" stroke-width="1.3"/>
<circle cx="768.52" cy="1361.2" r="3.3" fill="none" stroke="#be1e2d" stroke-width="1.3"/>
<circle cx="768.52" cy="1444.8" r="3.3" fill="none" stroke="#be1e2d" stroke-width="1.3"/>
<circle cx="768.52" cy="1467.6" r="3.3" fill="none" stroke="#be1e2d" stroke-width="1.3"/>
<circle cx="404.56" cy="1593.5" r="6.8" fill="#be1e2d"/>
<circle cx="465.22" cy="1590.5" r="6.8" fill="#be1e2d"/>
<circle cx="525.88" cy="1550.4" r="6.8" fill="#be1e2d"/>
<circle cx="586.54" cy="1566.7" r="6.8" fill="#be1e2d"/>
<circle cx="647.2" cy="1530.5" r="6.8" fill="#be1e2d"/>
<circle cx="707.86" cy="1514" r="6.8" fill="#be1e2d"/>
<circle cx="768.52" cy="1436.4" r="6.8" fill="#be1e2d"/>
<line x1="344" y1="1588.2" x2="359.6" y2="1588.2" stroke="#000" stroke-width="1.7"/>
<line x1="388.86" y1="1588.2" x2="420.26" y2="1588.2" stroke="#000" stroke-width="1.7"/>
<line x1="449.52" y1="1588.2" x2="480.92" y2="1588.2" stroke="#000" stroke-width="1.7"/>
<line x1="510.18" y1="1588.2" x2="541.58" y2="1588.2" stroke="#000" stroke-width="1.7"/>
<line x1="570.84" y1="1588.2" x2="602.24" y2="1588.2" stroke="#000" stroke-width="1.7"/>
<line x1="631.5" y1="1588.2" x2="662.9" y2="1588.2" stroke="#000" stroke-width="1.7"/>
<line x1="692.16" y1="1588.2" x2="723.56" y2="1588.2" stroke="#000" stroke-width="1.7"/>
<line x1="752.82" y1="1588.2" x2="769.1" y2="1588.2" stroke="#000" stroke-width="1.7"/>
</svg>
</body></html>
